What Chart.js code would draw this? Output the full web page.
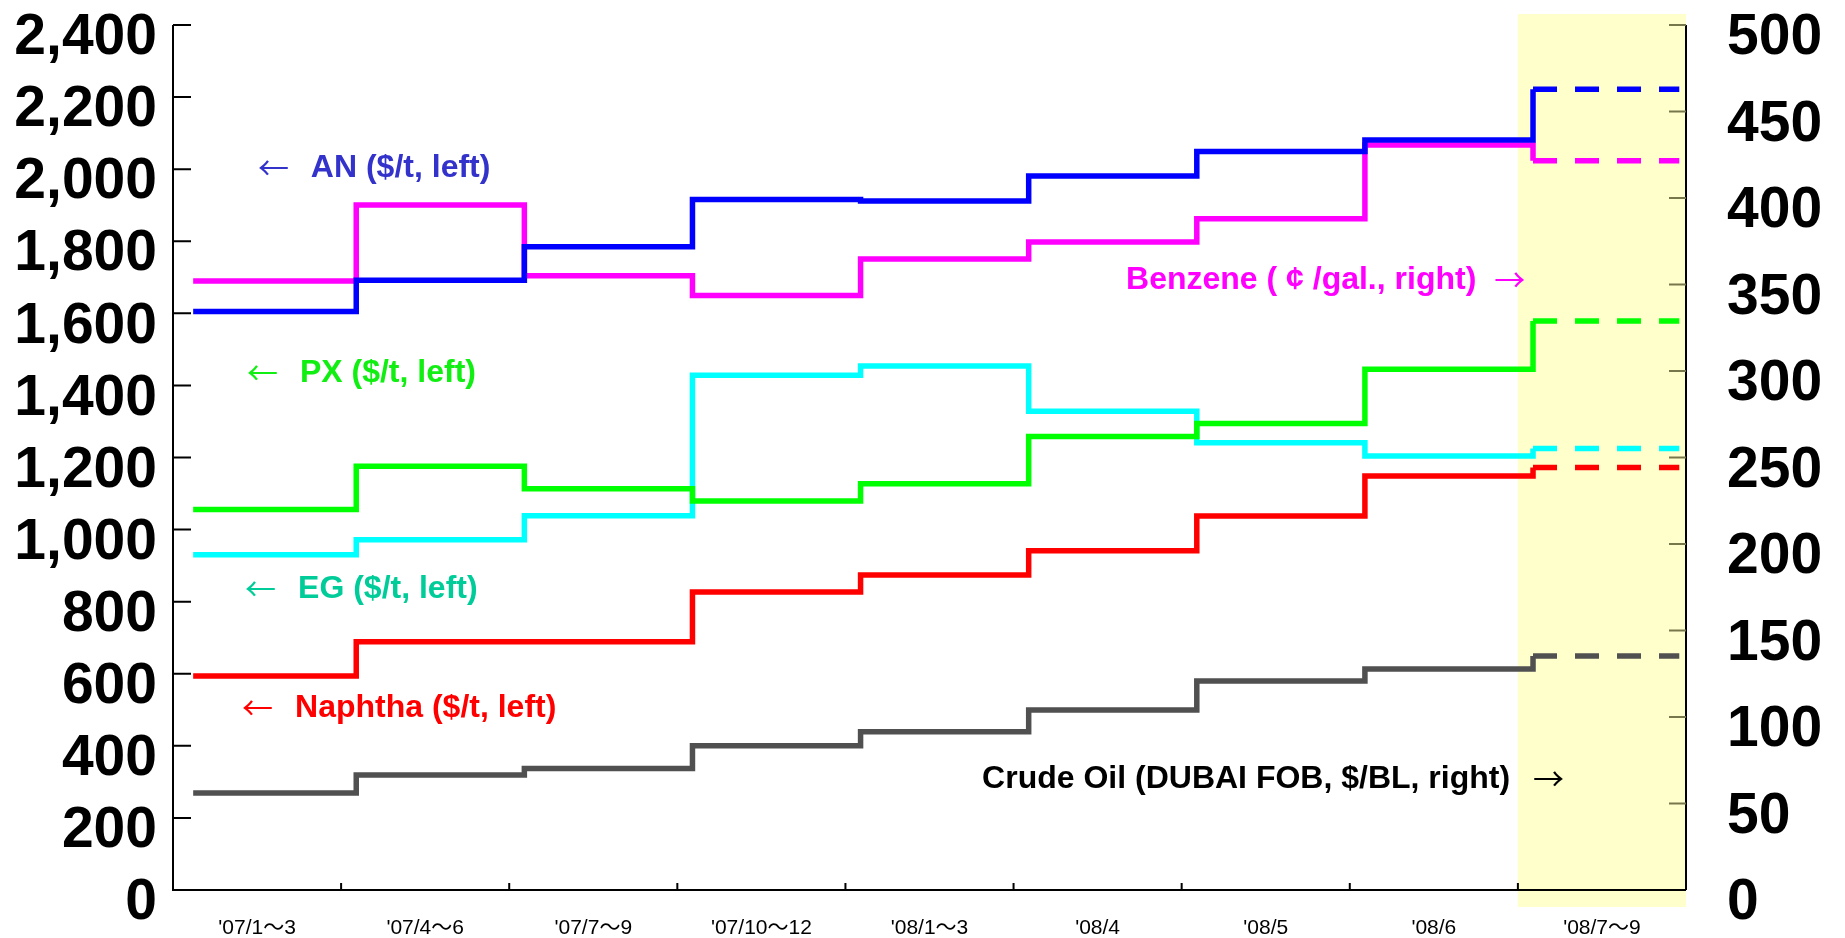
<!DOCTYPE html>
<html>
<head>
<meta charset="utf-8">
<script src="https://cdn.jsdelivr.net/npm/chart.js@4.4.1/dist/chart.umd.min.js"></script>
<style>
  html, body { margin: 0; padding: 0; background: #ffffff; }
  #wrap { width: 1845px; height: 938px; position: relative; }
</style>
</head>
<body>
<div id="wrap"><canvas id="c"></canvas></div>
<script>
// ---- data ----
const categories = ["'07/1〜3", "'07/4〜6", "'07/7〜9", "'07/10〜12", "'08/1〜3", "'08/4", "'08/5", "'08/6", "'08/7〜9"];
const anValues      = [1605, 1692, 1785, 1916, 1912, 1981, 2049, 2081, 2222];   // $/t, left
const benzeneValues = [352, 396, 355, 343.7, 364.7, 374.5, 388, 430.6, 421.6];  // ¢/gal, right
const pxValues      = [1056, 1176, 1113, 1079, 1127, 1258, 1294, 1445, 1579];   // $/t, left
const egValues      = [930, 972, 1038.6, 1428, 1454, 1328, 1241, 1204, 1225];   // $/t, left
const naphthaValues = [594, 689, 689, 827, 874, 941, 1038, 1149, 1172];         // $/t, left
const crudeValues   = [56, 66.5, 70.3, 83.4, 91.5, 104, 120.8, 127.7, 135.3];   // $/BL, right
const leftAxisRange  = [0, 2400, 200];
const rightAxisRange = [0, 500, 50];
const forecastIndex = 8; // '08/7〜9 shown dashed on shaded background

// ---- styles ----
const LINE_W = 5.5;
const stepShift = 0.09, lineStart = 0.12, lineEnd = 8.96;

function stepPoints(vals) {
  const pts = vals.map((v, i) => ({ x: i === 0 ? lineStart : i + stepShift, y: v }));
  pts.push({ x: lineEnd, y: vals[vals.length - 1] });
  return pts;
}
function ds(label, vals, color, axis) {
  return {
    label, data: stepPoints(vals), yAxisID: axis, xAxisID: 'x',
    borderColor: color, borderWidth: LINE_W, pointRadius: 0, pointHoverRadius: 0,
    stepped: 'before', fill: false, tension: 0, borderCapStyle: 'butt', borderJoinStyle: 'miter',
    segment: { borderDash: c => (c.p0DataIndex >= forecastIndex ? [24, 18] : undefined) }
  };
}

const annotations = [
  { text: 'AN ($/t, left)', color: '#3333cc', arrow: '←', arrowX: 0.506, textX: 0.82, y: 2006, axis: 'y' },
  { text: 'PX ($/t, left)', color: '#11ee11', arrow: '←', arrowX: 0.44, textX: 0.755, y: 1437, axis: 'y' },
  { text: 'EG ($/t, left)', color: '#00cc99', arrow: '←', arrowX: 0.428, textX: 0.744, y: 838, axis: 'y' },
  { text: 'Naphtha ($/t, left)', color: '#ff0000', arrow: '←', arrowX: 0.41, textX: 0.726, y: 508, axis: 'y' },
  { text: 'Benzene ( ¢ /gal., right)', color: '#ff00ff', arrow: '→', arrowX: 7.859, textX: 5.669, y: 1695, axis: 'y' },
  { text: 'Crude Oil (DUBAI FOB, $/BL, right)', color: '#000000', arrow: '→', arrowX: 8.09, textX: 4.813, y: 311, axis: 'y' }
];

const shadePlugin = {
  id: 'shade',
  beforeDatasetsDraw(chart) {
    const { ctx, chartArea: a } = chart;
    const x = chart.scales.x;
    const x0 = x.getPixelForValue(forecastIndex), x1 = x.getPixelForValue(forecastIndex + 1);
    ctx.save();
    ctx.fillStyle = '#ffffcc';
    ctx.fillRect(x0, a.top - 11, x1 - x0, a.bottom - a.top + 28);
    ctx.restore();
  }
};

const axesPlugin = {
  id: 'axesAndNotes',
  afterDatasetsDraw(chart) {
    const { ctx, chartArea: a } = chart;
    const xs = chart.scales.x, yl = chart.scales.y, yr = chart.scales.y2;
    ctx.save();
    ctx.lineWidth = 2;
    ctx.strokeStyle = '#000';
    ctx.beginPath();
    ctx.moveTo(a.left, a.top); ctx.lineTo(a.left, a.bottom); ctx.lineTo(a.right, a.bottom);
    ctx.moveTo(a.right, a.top); ctx.lineTo(a.right, a.bottom);
    ctx.stroke();
    // left ticks (inward)
    ctx.beginPath();
    yl.ticks.forEach(t => { const p = yl.getPixelForValue(t.value); ctx.moveTo(a.left, p); ctx.lineTo(a.left + 18, p); });
    // x ticks (inward, at category boundaries)
    for (let i = 1; i <= categories.length - 1; i++) {
      const p = xs.getPixelForValue(i); ctx.moveTo(p, a.bottom); ctx.lineTo(p, a.bottom - 7);
    }
    ctx.stroke();
    // right ticks (inward, tinted by shading)
    ctx.strokeStyle = '#77774c';
    ctx.beginPath();
    yr.ticks.forEach(t => { const p = yr.getPixelForValue(t.value); if (t.value > 0) { ctx.moveTo(a.right - 17, p); ctx.lineTo(a.right, p); } });
    ctx.stroke();

    // annotations
    ctx.textBaseline = 'middle';
    ctx.textAlign = 'left';
    annotations.forEach(n => {
      const ys = chart.scales[n.axis];
      const y = ys.getPixelForValue(n.y);
      ctx.fillStyle = n.color;
      ctx.font = "bold 32px 'Liberation Sans', Arial, sans-serif";
      ctx.fillText(n.text, xs.getPixelForValue(n.textX), y + 1);
      ctx.font = "31px 'Noto Sans CJK JP', 'DejaVu Sans', sans-serif";
      ctx.fillText(n.arrow, xs.getPixelForValue(n.arrowX), y);
    });
    ctx.restore();
  }
};

const tickFont = { family: "'Liberation Sans', Arial, sans-serif", size: 57, weight: 'bold' };

new Chart(document.getElementById('c'), {
  type: 'line',
  data: {
    datasets: [
      ds('AN', anValues, '#0000ff', 'y'),
      ds('Benzene', benzeneValues, '#ff00ff', 'y2'),
      ds('PX', pxValues, '#00ff00', 'y'),
      ds('EG', egValues, '#00ffff', 'y'),
      ds('Naphtha', naphthaValues, '#ff0000', 'y'),
      ds('Crude Oil', crudeValues, '#505050', 'y2')
    ]
  },
  options: {
    responsive: true,
    maintainAspectRatio: false,
    animation: false,
    devicePixelRatio: 1,
    locale: 'en-US',
    layout: { padding: { top: 25, right: 0, bottom: 0, left: 0 } },
    plugins: { legend: { display: false }, tooltip: { enabled: false } },
    events: [],
    scales: {
      x: {
        type: 'linear', position: 'bottom', min: 0, max: categories.length,
        grid: { display: false }, border: { display: false },
        afterBuildTicks: s => { s.ticks = categories.map((c, i) => ({ value: i + 0.5 })); },
        ticks: {
          autoSkip: false, maxRotation: 0, minRotation: 0, padding: 18, color: '#000',
          font: { family: "'Liberation Sans', 'Noto Sans CJK JP', Arial, sans-serif", size: 21 },
          callback: v => categories[Math.floor(v)]
        },
        afterFit: s => { s.height = 48; s.paddingLeft = 0; s.paddingRight = 0; }
      },
      y: {
        type: 'linear', position: 'left', min: leftAxisRange[0], max: leftAxisRange[1],
        grid: { display: false, drawTicks: false }, border: { display: false },
        ticks: { stepSize: leftAxisRange[2], autoSkip: false, padding: 16, labelOffset: 13.5, color: '#000', font: tickFont },
        afterFit: s => { s.width = 173; s.paddingTop = 0; s.paddingBottom = 0; }
      },
      y2: {
        type: 'linear', position: 'right', min: rightAxisRange[0], max: rightAxisRange[1],
        grid: { display: false, drawTicks: false }, border: { display: false },
        ticks: { stepSize: rightAxisRange[2], autoSkip: false, padding: 41, labelOffset: 13.5, color: '#000', font: tickFont },
        afterFit: s => { s.width = 159; s.paddingTop = 0; s.paddingBottom = 0; }
      }
    }
  },
  plugins: [shadePlugin, axesPlugin]
});
</script>
</body>
</html>
